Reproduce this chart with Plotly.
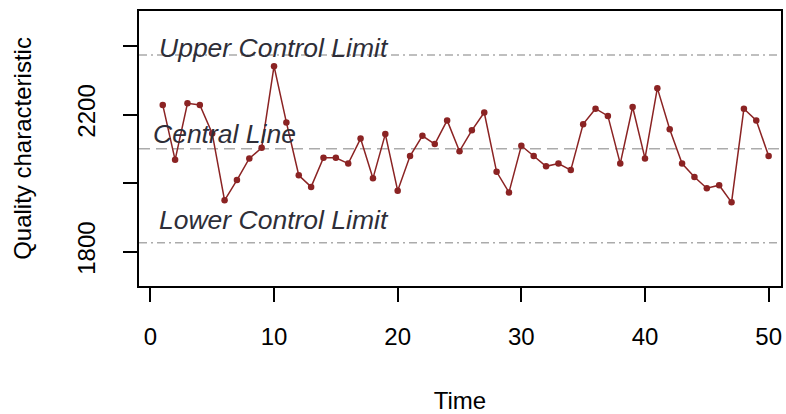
import plotly.graph_objects as go

time = list(range(1, 51))
quality = [2228, 2068, 2233, 2228, 2145, 1950, 2009, 2072, 2103, 2341,
           2177, 2023, 1989, 2074, 2074, 2057, 2130, 2014, 2143, 1978,
           2079, 2138, 2114, 2183, 2093, 2154, 2206, 2033, 1973, 2109,
           2079, 2049, 2057, 2038, 2172, 2217, 2196, 2057, 2222, 2072,
           2277, 2157, 2057, 2018, 1985, 1994, 1944, 2217, 2183, 2079]

center_line = 2100
upper_limit = 2374
lower_limit = 1826
limit_labels = ["Upper Control Limit", "Central Line", "Lower Control Limit"]
label_x = [10, 6, 10]
label_y = [2395, 2142, 1892]

x_ticks = [0, 10, 20, 30, 40, 50]
y_ticks = [1800, 2000, 2200, 2400]
y_ticktext = ["1800", "", "2200", ""]

FONT = "Liberation Sans, Arial, sans-serif"
RED = "#8B2323"
GRAY = "#ABABAB"

fig = go.Figure()

fig.add_trace(go.Scatter(
    x=time, y=quality, mode="lines+markers",
    line=dict(color=RED, width=1.5),
    marker=dict(color=RED, size=6.5),
    showlegend=False, hoverinfo="x+y"))

for val, dash in [(upper_limit, "8px,4px,2px,4px"),
                  (center_line, "11px,6px"),
                  (lower_limit, "8px,4px,2px,4px")]:
    fig.add_shape(type="line", xref="paper", x0=0, x1=1, yref="y", y0=val, y1=val,
                  line=dict(color=GRAY, width=1.5, dash=dash), layer="below")

for txt, xv, yv in zip(limit_labels, label_x, label_y):
    fig.add_annotation(x=xv, y=yv, text=txt, showarrow=False, xanchor="center", yanchor="middle",
                       font=dict(family=FONT, size=26.5, color="#2e2e38", style="italic"))

fig.update_layout(
    width=786, height=414,
    margin=dict(l=139, r=3, t=11, b=128),
    paper_bgcolor="white", plot_bgcolor="white",
    font=dict(family=FONT, color="black", size=24),
)

fig.update_xaxes(
    range=[-0.92, 51.0], tickvals=x_ticks, ticks="outside", ticklen=14, tickwidth=1.5,
    tickcolor="black", showgrid=False, zeroline=False,
    showline=True, linecolor="black", linewidth=1.5, mirror=True,
    ticklabelstandoff=14,
    title=dict(text="Time", font=dict(size=24), standoff=45),
    tickfont=dict(size=24))

fig.update_yaxes(
    range=[1700, 2502], tickvals=y_ticks, ticktext=y_ticktext, tickangle=-90,
    ticks="outside", ticklen=14, tickwidth=1.5, tickcolor="black",
    showgrid=False, zeroline=False,
    showline=True, linecolor="black", linewidth=1.5, mirror=True,
    ticklabelstandoff=19,
    title=dict(text="Quality characteristic", font=dict(size=24), standoff=34),
    tickfont=dict(size=24))

fig.write_html("out.html")
